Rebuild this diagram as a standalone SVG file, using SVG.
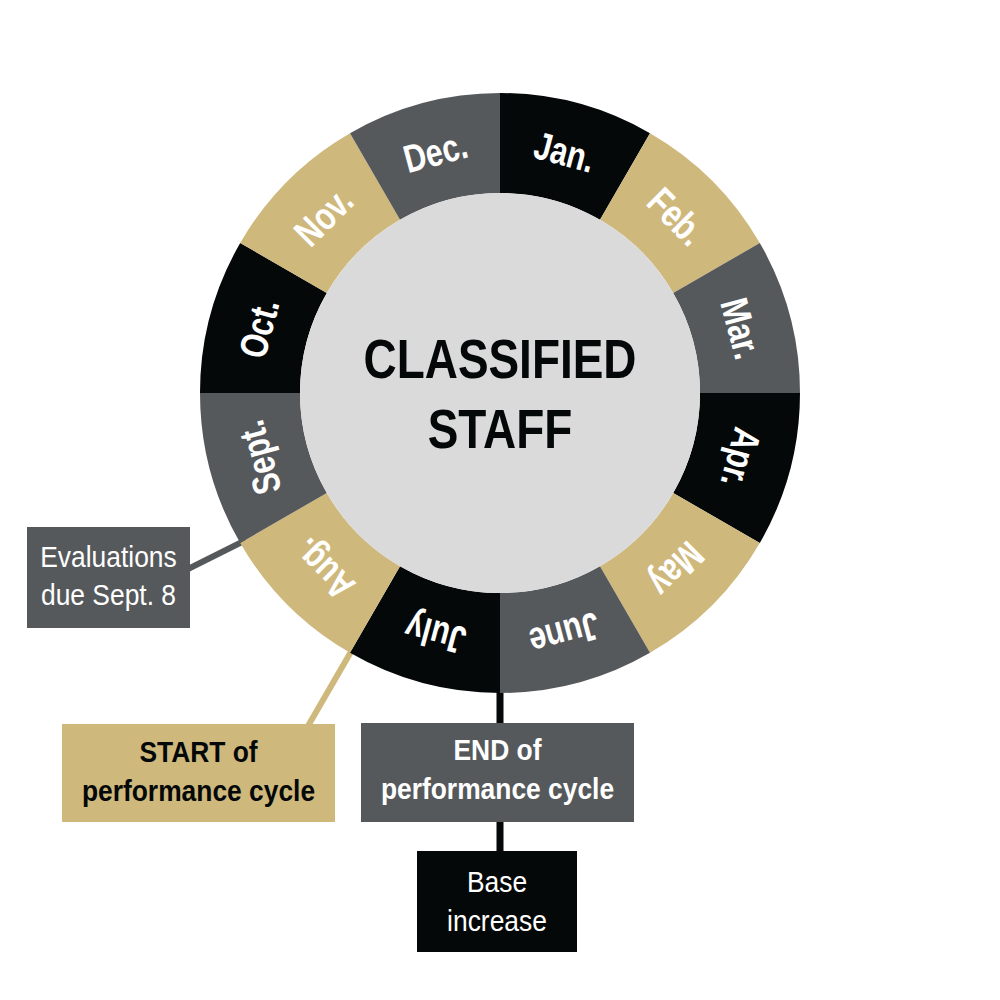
<svg xmlns="http://www.w3.org/2000/svg" width="1000" height="1000" viewBox="0 0 1000 1000">
<style>
.blk{fill:#050808}
.tan{fill:#cfb87c}
.gry{fill:#56595c}
.mon{font-family:"Liberation Sans",Arial,sans-serif;font-weight:bold;font-size:39px;fill:#ffffff;text-anchor:middle}
.ctr{font-family:"Liberation Sans",Arial,sans-serif;font-weight:bold;font-size:56px;fill:#050808;text-anchor:middle}
.lbl{font-family:"Liberation Sans",Arial,sans-serif;font-size:30px;text-anchor:middle}
.b{font-weight:bold}
</style>
<rect width="1000" height="1000" fill="#ffffff"/>
<g id="connectors">
<line x1="188" y1="569" x2="246" y2="540" stroke="#56595c" stroke-width="6"/>
<line x1="308" y1="726" x2="352" y2="650" stroke="#cfb87c" stroke-width="6"/>
<line x1="500" y1="688" x2="500" y2="853" stroke="#050808" stroke-width="7"/>
</g>
<g id="wheel">
<path id="jan" class="blk" d="M500 93 A300 300 0 0 1 650 133.2 L600 219.8 A200 200 0 0 0 500 193 Z"/>
<path id="feb" class="tan" d="M650 133.2 A300 300 0 0 1 759.8 243 L673.2 293 A200 200 0 0 0 600 219.8 Z"/>
<path id="mar" class="gry" d="M759.8 243 A300 300 0 0 1 800 393 L700 393 A200 200 0 0 0 673.2 293 Z"/>
<path id="apr" class="blk" d="M800 393 A300 300 0 0 1 759.8 543 L673.2 493 A200 200 0 0 0 700 393 Z"/>
<path id="may" class="tan" d="M759.8 543 A300 300 0 0 1 650 652.8 L600 566.2 A200 200 0 0 0 673.2 493 Z"/>
<path id="jun" class="gry" d="M650 652.8 A300 300 0 0 1 500 693 L500 593 A200 200 0 0 0 600 566.2 Z"/>
<path id="jul" class="blk" d="M500 693 A300 300 0 0 1 350 652.8 L400 566.2 A200 200 0 0 0 500 593 Z"/>
<path id="aug" class="tan" d="M350 652.8 A300 300 0 0 1 240.2 543 L326.8 493 A200 200 0 0 0 400 566.2 Z"/>
<path id="sep" class="gry" d="M240.2 543 A300 300 0 0 1 200 393 L300 393 A200 200 0 0 0 326.8 493 Z"/>
<path id="oct" class="blk" d="M200 393 A300 300 0 0 1 240.2 243 L326.8 293 A200 200 0 0 0 300 393 Z"/>
<path id="nov" class="tan" d="M240.2 243 A300 300 0 0 1 350 133.2 L400 219.8 A200 200 0 0 0 326.8 293 Z"/>
<path id="dec" class="gry" d="M350 133.2 A300 300 0 0 1 500 93 L500 193 A200 200 0 0 0 400 219.8 Z"/>
<circle id="hub" cx="500" cy="393" r="200" fill="#dadada"/>
</g>
<g id="months">
<text class="mon" transform="rotate(15 500 393) translate(500 157) scale(0.78 1)">Jan.</text>
<text class="mon" transform="rotate(45 500 393) translate(500 157) scale(0.78 1)">Feb.</text>
<text class="mon" transform="rotate(75 500 393) translate(500 157) scale(0.78 1)">Mar.</text>
<text class="mon" transform="rotate(105 500 393) translate(500 157) scale(0.78 1)">Apr.</text>
<text class="mon" transform="rotate(135 500 393) translate(500 157) scale(0.78 1)">May</text>
<text class="mon" transform="rotate(165 500 393) translate(500 157) scale(0.78 1)">June</text>
<text class="mon" transform="rotate(195 500 393) translate(500 157) scale(0.78 1)">July</text>
<text class="mon" transform="rotate(225 500 393) translate(500 157) scale(0.78 1)">Aug.</text>
<text class="mon" transform="rotate(255 500 393) translate(500 157) scale(0.78 1)">Sept.</text>
<text class="mon" transform="rotate(285 500 393) translate(500 157) scale(0.78 1)">Oct.</text>
<text class="mon" transform="rotate(315 500 393) translate(500 157) scale(0.78 1)">Nov.</text>
<text class="mon" transform="rotate(345 500 393) translate(500 157) scale(0.78 1)">Dec.</text>
</g>
<g id="title">
<text class="ctr" transform="translate(500 378) scale(0.82 1)">CLASSIFIED</text>
<text class="ctr" transform="translate(500 448) scale(0.82 1)">STAFF</text>
</g>
<g id="node-evaluations">
<rect x="27" y="527" width="163" height="101" class="gry"/>
<text class="lbl" fill="#ffffff" transform="translate(108.5 567) scale(0.88 1)">Evaluations</text>
<text class="lbl" fill="#ffffff" transform="translate(108.5 605) scale(0.88 1)">due Sept. 8</text>
</g>
<g id="node-start">
<rect x="62" y="724" width="273" height="98" class="tan"/>
<text class="lbl b" fill="#050808" transform="translate(198.5 762) scale(0.88 1)">START of</text>
<text class="lbl b" fill="#050808" transform="translate(198.5 801) scale(0.88 1)">performance cycle</text>
</g>
<g id="node-end">
<rect x="361" y="723" width="273" height="99" class="gry"/>
<text class="lbl b" fill="#ffffff" transform="translate(497.5 760) scale(0.88 1)">END of</text>
<text class="lbl b" fill="#ffffff" transform="translate(497.5 799) scale(0.88 1)">performance cycle</text>
</g>
<g id="node-base">
<rect x="417" y="851" width="160" height="101" class="blk"/>
<text class="lbl" fill="#ffffff" transform="translate(497 892) scale(0.88 1)">Base</text>
<text class="lbl" fill="#ffffff" transform="translate(497 931) scale(0.88 1)">increase</text>
</g>
</svg>
